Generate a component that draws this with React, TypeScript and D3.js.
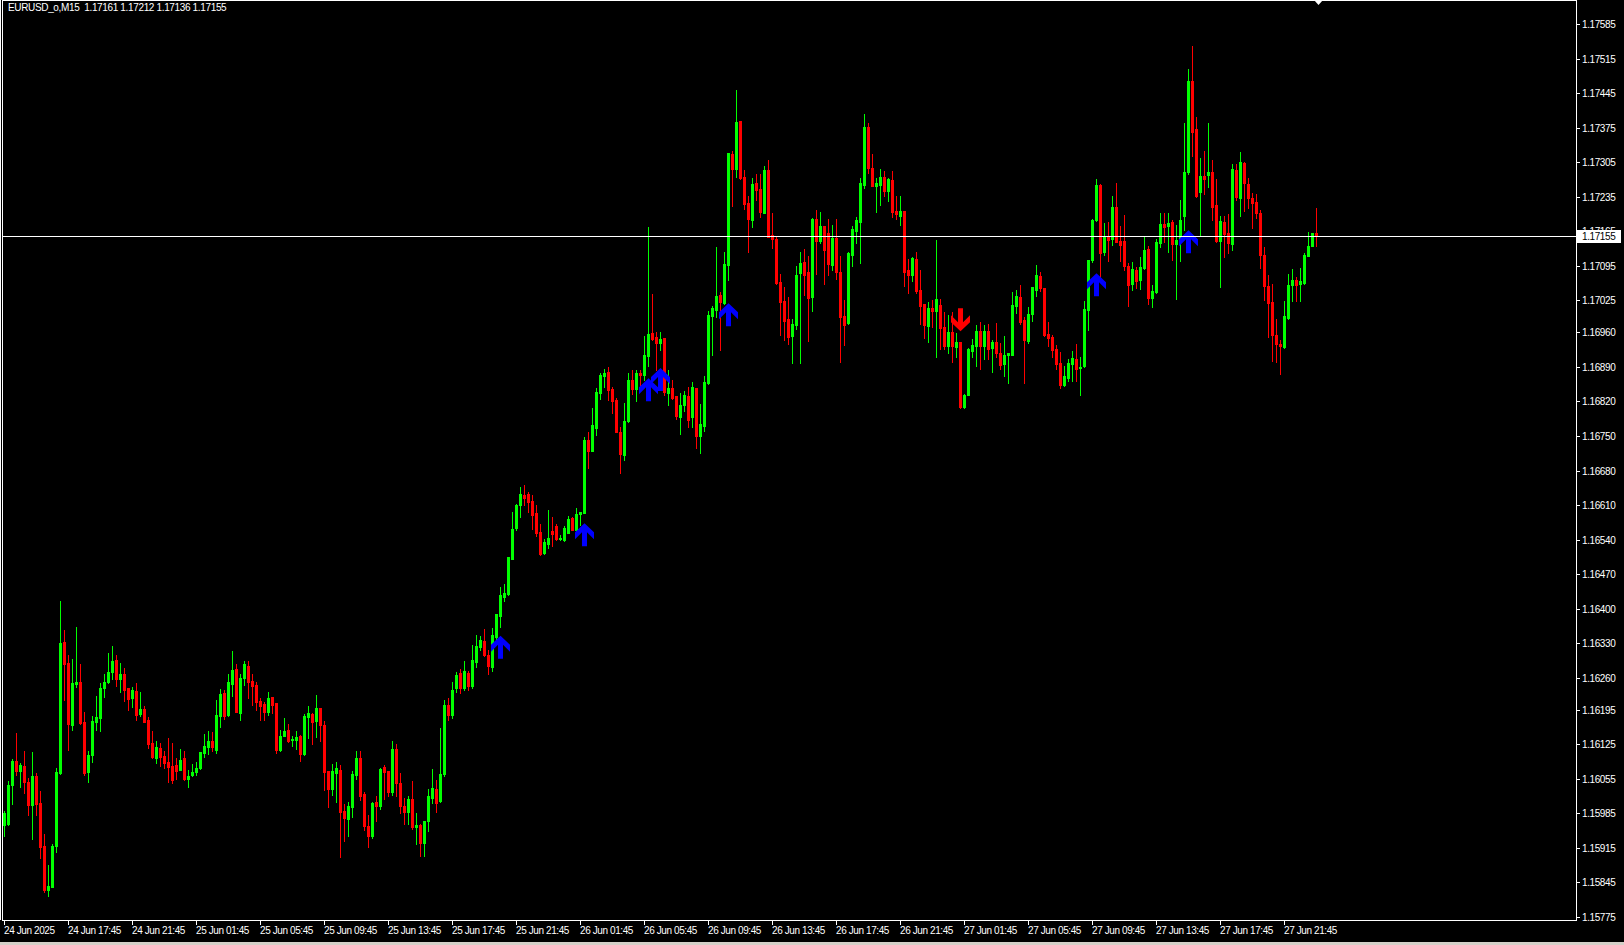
import React from 'react';
import * as d3 from 'd3';

const SYMBOL = 'EURUSD_o,M15';
const CURRENT_PRICE = 1.17155;

const OPEN = [
1.15962,1.15963,1.16043,1.16091,1.16070,1.16081,1.16049,1.16002,1.16060,1.16006,
1.15919,1.15829,1.15835,1.15919,1.16066,1.16332,1.16290,1.16165,1.16247,1.16251,
1.16170,1.16069,1.16103,1.16171,1.16178,1.16239,1.16251,1.16272,1.16296,1.16257,
1.16268,1.16239,1.16219,1.16233,1.16187,1.16197,1.16175,1.16128,1.16098,1.16118,
1.16102,1.16089,1.16081,1.16083,1.16072,1.16097,1.16055,1.16062,1.16068,1.16078,
1.16108,1.16120,1.16132,1.16114,1.16183,1.16229,1.16184,1.16248,1.16278,1.16189,
1.16259,1.16284,1.16253,1.16245,1.16213,1.16207,1.16191,1.16221,1.16209,1.16114,
1.16142,1.16154,1.16134,1.16134,1.16142,1.16105,1.16181,1.16187,1.16172,1.16199,
1.16164,1.16071,1.16035,1.16067,1.16073,1.15990,1.15974,1.15997,1.16063,1.16097,
1.16024,1.15960,1.15939,1.16008,1.15999,1.16079,1.16071,1.16028,1.16116,1.16047,
1.16000,1.15988,1.16014,1.15958,1.15962,1.15925,1.15970,1.16016,1.16035,1.16010,
1.16065,1.16205,1.16185,1.16239,1.16270,1.16239,1.16270,1.16243,1.16292,1.16322,
1.16334,1.16306,1.16282,1.16343,1.16385,1.16424,1.16430,1.16501,1.16563,1.16610,
1.16630,1.16632,1.16618,1.16594,1.16555,1.16513,1.16531,1.16557,1.16567,1.16541,
1.16539,1.16553,1.16584,1.16559,1.16592,1.16594,1.16742,1.16719,1.16766,1.16837,
1.16871,1.16879,1.16845,1.16823,1.16758,1.16711,1.16780,1.16863,1.16845,1.16877,
1.16873,1.16912,1.16958,1.16950,1.16938,1.16948,1.16837,1.16847,1.16831,1.16788,
1.16813,1.16831,1.16788,1.16847,1.16750,1.16770,1.16857,1.16993,1.17005,1.17035,
1.17019,1.17096,1.17321,1.17291,1.17388,1.17275,1.17222,1.17187,1.17262,1.17250,
1.17202,1.17289,1.17157,1.17149,1.17062,1.17023,1.16987,1.16952,1.16975,1.17080,
1.17102,1.17082,1.17031,1.17189,1.17145,1.17175,1.17161,1.17096,1.17151,1.17082,
1.16993,1.16979,1.17117,1.17165,1.17183,1.17258,1.17376,1.17293,1.17256,1.17258,
1.17275,1.17246,1.17268,1.17206,1.17196,1.17206,1.17086,1.17076,1.17108,1.17046,
1.17017,1.16973,1.17009,1.17003,1.17015,1.16971,1.16932,1.16961,1.16930,1.16940,
1.16809,1.16833,1.16922,1.16932,1.16962,1.16932,1.16962,1.16928,1.16940,1.16918,
1.16896,1.16914,1.16914,1.17013,1.17031,1.16985,1.16942,1.16997,1.17046,1.17074,
1.17050,1.16956,1.16950,1.16926,1.16898,1.16853,1.16867,1.16896,1.16906,1.16888,
1.16892,1.17005,1.17106,1.17187,1.17258,1.17123,1.17155,1.17149,1.17214,1.17145,
1.17145,1.17094,1.17058,1.17086,1.17066,1.17090,1.17129,1.17029,1.17042,1.17141,
1.17179,1.17175,1.17183,1.17139,1.17147,1.17196,1.17285,1.17469,1.17372,1.17244,
1.17277,1.17279,1.17285,1.17218,1.17145,1.17183,1.17161,1.17139,1.17289,1.17232,
1.17303,1.17260,1.17232,1.17224,1.17202,1.17117,1.17054,1.17021,1.16954,1.16936,
1.16930,1.16989,1.17056,1.17066,1.17058,1.17060,1.17114,1.17135,1.17161,
];

const HIGH = [
1.15989,1.16051,1.16095,1.16147,1.16087,1.16112,1.16057,1.16110,1.16067,1.16031,
1.15943,1.15881,1.15923,1.16077,1.16415,1.16357,1.16306,1.16298,1.16363,1.16288,
1.16191,1.16112,1.16182,1.16223,1.16249,1.16268,1.16310,1.16324,1.16306,1.16290,
1.16280,1.16239,1.16241,1.16249,1.16231,1.16203,1.16181,1.16152,1.16132,1.16128,
1.16112,1.16138,1.16128,1.16097,1.16116,1.16112,1.16073,1.16085,1.16089,1.16110,
1.16146,1.16152,1.16150,1.16215,1.16237,1.16235,1.16268,1.16314,1.16288,1.16268,
1.16294,1.16294,1.16268,1.16251,1.16219,1.16211,1.16231,1.16221,1.16209,1.16154,
1.16178,1.16166,1.16142,1.16152,1.16144,1.16187,1.16203,1.16189,1.16225,1.16199,
1.16172,1.16071,1.16085,1.16089,1.16083,1.16004,1.16008,1.16071,1.16112,1.16112,
1.16028,1.15982,1.16008,1.16020,1.16077,1.16083,1.16071,1.16132,1.16126,1.16067,
1.16016,1.16020,1.16051,1.15986,1.15964,1.15970,1.16035,1.16075,1.16053,1.16158,
1.16215,1.16219,1.16251,1.16272,1.16278,1.16294,1.16274,1.16326,1.16347,1.16345,
1.16359,1.16316,1.16361,1.16389,1.16444,1.16450,1.16505,1.16596,1.16612,1.16646,
1.16651,1.16636,1.16630,1.16610,1.16571,1.16541,1.16600,1.16586,1.16571,1.16549,
1.16567,1.16588,1.16586,1.16604,1.16596,1.16748,1.16758,1.16807,1.16847,1.16877,
1.16886,1.16890,1.16849,1.16827,1.16768,1.16817,1.16877,1.16884,1.16884,1.16884,
1.16952,1.17173,1.17037,1.16960,1.16960,1.16948,1.16884,1.16863,1.16831,1.16837,
1.16841,1.16849,1.16859,1.16847,1.16815,1.16871,1.17003,1.17013,1.17133,1.17042,
1.17123,1.17323,1.17327,1.17451,1.17388,1.17289,1.17236,1.17273,1.17281,1.17281,
1.17297,1.17309,1.17202,1.17153,1.17078,1.17052,1.17031,1.16987,1.17094,1.17123,
1.17129,1.17114,1.17191,1.17208,1.17204,1.17175,1.17189,1.17177,1.17189,1.17114,
1.17025,1.17123,1.17175,1.17193,1.17273,1.17402,1.17384,1.17321,1.17273,1.17291,
1.17287,1.17273,1.17287,1.17236,1.17236,1.17206,1.17108,1.17112,1.17123,1.17086,
1.17017,1.17021,1.17025,1.17147,1.17027,1.17001,1.16995,1.17001,1.16958,1.16940,
1.16835,1.16928,1.16946,1.16975,1.16981,1.16975,1.16977,1.16944,1.16979,1.16938,
1.16952,1.16918,1.17042,1.17046,1.17056,1.16991,1.17011,1.17052,1.17096,1.17082,
1.17050,1.16981,1.16954,1.16934,1.16920,1.16892,1.16906,1.16922,1.16936,1.16910,
1.17023,1.17106,1.17189,1.17270,1.17260,1.17181,1.17183,1.17236,1.17262,1.17175,
1.17198,1.17100,1.17102,1.17092,1.17112,1.17155,1.17135,1.17056,1.17149,1.17202,
1.17202,1.17202,1.17187,1.17177,1.17228,1.17384,1.17493,1.17540,1.17396,1.17313,
1.17327,1.17384,1.17309,1.17270,1.17196,1.17196,1.17200,1.17301,1.17301,1.17325,
1.17305,1.17273,1.17242,1.17240,1.17208,1.17133,1.17076,1.17058,1.16987,1.16944,
1.17023,1.17078,1.17088,1.17072,1.17090,1.17121,1.17163,1.17161,1.17212,
];

const LOW = [
1.15940,1.15962,1.16005,1.16063,1.16039,1.16027,1.15982,1.15933,1.15981,1.15895,
1.15825,1.15818,1.15835,1.15906,1.16064,1.16215,1.16114,1.16154,1.16242,1.16167,
1.16062,1.16049,1.16090,1.16155,1.16153,1.16220,1.16249,1.16257,1.16243,1.16232,
1.16212,1.16195,1.16201,1.16175,1.16183,1.16171,1.16118,1.16098,1.16088,1.16082,
1.16078,1.16049,1.16047,1.16055,1.16072,1.16053,1.16039,1.16060,1.16062,1.16074,
1.16100,1.16106,1.16112,1.16108,1.16161,1.16176,1.16183,1.16223,1.16190,1.16175,
1.16245,1.16219,1.16205,1.16195,1.16174,1.16174,1.16185,1.16189,1.16108,1.16112,
1.16142,1.16130,1.16122,1.16116,1.16092,1.16103,1.16138,1.16126,1.16140,1.16131,
1.16033,1.15997,1.16022,1.16009,1.15897,1.15929,1.15940,1.15978,1.16055,1.16012,
1.15952,1.15917,1.15935,1.15970,1.15994,1.16014,1.16020,1.16022,1.16020,1.15986,
1.15964,1.15964,1.15954,1.15923,1.15899,1.15899,1.15950,1.16006,1.15988,1.16008,
1.16061,1.16174,1.16178,1.16231,1.16229,1.16235,1.16235,1.16239,1.16282,1.16316,
1.16304,1.16268,1.16274,1.16336,1.16363,1.16415,1.16428,1.16501,1.16559,1.16586,
1.16610,1.16596,1.16561,1.16547,1.16509,1.16511,1.16523,1.16527,1.16539,1.16539,
1.16537,1.16553,1.16559,1.16557,1.16569,1.16594,1.16685,1.16719,1.16752,1.16825,
1.16849,1.16823,1.16796,1.16758,1.16675,1.16701,1.16778,1.16835,1.16821,1.16843,
1.16863,1.16892,1.16944,1.16884,1.16924,1.16833,1.16813,1.16825,1.16784,1.16754,
1.16800,1.16768,1.16768,1.16725,1.16715,1.16760,1.16855,1.16914,1.16991,1.16924,
1.17017,1.17066,1.17216,1.17275,1.17270,1.17210,1.17123,1.17173,1.17228,1.17193,
1.17202,1.17153,1.17131,1.17058,1.16954,1.16944,1.16936,1.16898,1.16967,1.16898,
1.17035,1.16942,1.17003,1.17078,1.17141,1.17058,1.17076,1.17086,1.17068,1.16900,
1.16934,1.16977,1.17094,1.17141,1.17100,1.17252,1.17283,1.17256,1.17204,1.17218,
1.17236,1.17226,1.17193,1.17189,1.17177,1.17054,1.17040,1.17064,1.17040,1.16977,
1.16948,1.16940,1.16971,1.16910,1.16926,1.16926,1.16918,1.16900,1.16910,1.16807,
1.16807,1.16833,1.16910,1.16892,1.16886,1.16906,1.16906,1.16879,1.16910,1.16886,
1.16871,1.16857,1.16914,1.16999,1.16977,1.16857,1.16938,1.16983,1.17033,1.17044,
1.16952,1.16932,1.16910,1.16886,1.16847,1.16851,1.16861,1.16861,1.16861,1.16833,
1.16890,1.16965,1.17102,1.17185,1.17072,1.17117,1.17104,1.17137,1.17143,1.17104,
1.17086,1.17013,1.17046,1.17050,1.17048,1.17088,1.17017,1.17011,1.17040,1.17133,
1.17143,1.17123,1.17106,1.17027,1.17104,1.17167,1.17281,1.17317,1.17234,1.17155,
1.17240,1.17254,1.17187,1.17143,1.17052,1.17112,1.17121,1.17127,1.17228,1.17196,
1.17206,1.17212,1.17171,1.17191,1.17090,1.17025,1.16950,1.16902,1.16900,1.16875,
1.16928,1.16987,1.17023,1.17023,1.17023,1.17058,1.17114,1.17135,1.17136,
];

const CLOSE = [
1.15985,1.16043,1.16091,1.16070,1.16083,1.16049,1.16001,1.16061,1.16005,1.15916,
1.15829,1.15838,1.15919,1.16069,1.16330,1.16288,1.16166,1.16249,1.16251,1.16168,
1.16067,1.16103,1.16172,1.16181,1.16239,1.16251,1.16272,1.16294,1.16257,1.16268,
1.16235,1.16217,1.16235,1.16185,1.16197,1.16171,1.16126,1.16100,1.16120,1.16100,
1.16087,1.16080,1.16053,1.16071,1.16093,1.16055,1.16061,1.16069,1.16077,1.16110,
1.16122,1.16132,1.16120,1.16185,1.16227,1.16183,1.16251,1.16276,1.16191,1.16259,
1.16288,1.16251,1.16244,1.16211,1.16203,1.16191,1.16219,1.16205,1.16114,1.16142,
1.16152,1.16132,1.16136,1.16140,1.16106,1.16183,1.16189,1.16170,1.16199,1.16164,
1.16069,1.16035,1.16071,1.16077,1.15987,1.15976,1.16000,1.16065,1.16097,1.16020,
1.15960,1.15939,1.16006,1.16000,1.16075,1.16068,1.16028,1.16116,1.16047,1.16000,
1.15988,1.16014,1.15958,1.15962,1.15925,1.15970,1.16020,1.16037,1.16006,1.16065,
1.16205,1.16185,1.16235,1.16266,1.16239,1.16274,1.16243,1.16296,1.16324,1.16336,
1.16306,1.16284,1.16347,1.16389,1.16428,1.16432,1.16505,1.16561,1.16610,1.16632,
1.16624,1.16616,1.16590,1.16553,1.16511,1.16535,1.16543,1.16551,1.16541,1.16543,
1.16563,1.16582,1.16559,1.16592,1.16596,1.16742,1.16719,1.16772,1.16839,1.16873,
1.16877,1.16843,1.16821,1.16758,1.16713,1.16780,1.16863,1.16845,1.16877,1.16873,
1.16914,1.16956,1.16946,1.16938,1.16946,1.16839,1.16847,1.16827,1.16790,1.16813,
1.16833,1.16782,1.16849,1.16750,1.16774,1.16859,1.16995,1.17009,1.17033,1.17021,
1.17098,1.17323,1.17291,1.17386,1.17273,1.17220,1.17189,1.17260,1.17248,1.17204,
1.17289,1.17153,1.17149,1.17060,1.17021,1.16983,1.16950,1.16977,1.17076,1.17100,
1.17076,1.17029,1.17189,1.17145,1.17175,1.17127,1.17098,1.17151,1.17082,1.16991,
1.16975,1.17121,1.17169,1.17187,1.17262,1.17376,1.17293,1.17256,1.17262,1.17275,
1.17246,1.17270,1.17204,1.17200,1.17206,1.17082,1.17076,1.17110,1.17044,1.17013,
1.16975,1.17009,1.17003,1.17027,1.16969,1.16932,1.16961,1.16932,1.16940,1.16809,
1.16833,1.16926,1.16934,1.16962,1.16932,1.16962,1.16926,1.16940,1.16918,1.16894,
1.16914,1.16918,1.17015,1.17033,1.16981,1.16944,1.16997,1.17052,1.17076,1.17050,
1.16954,1.16948,1.16924,1.16896,1.16853,1.16871,1.16898,1.16908,1.16886,1.16890,
1.17007,1.17106,1.17187,1.17258,1.17121,1.17155,1.17147,1.17214,1.17143,1.17137,
1.17094,1.17056,1.17088,1.17064,1.17092,1.17127,1.17029,1.17044,1.17143,1.17179,
1.17173,1.17181,1.17139,1.17147,1.17187,1.17285,1.17469,1.17366,1.17236,1.17277,
1.17270,1.17285,1.17214,1.17145,1.17185,1.17159,1.17141,1.17291,1.17234,1.17305,
1.17262,1.17232,1.17222,1.17202,1.17117,1.17054,1.17019,1.16954,1.16936,1.16932,
1.16993,1.17056,1.17066,1.17056,1.17064,1.17117,1.17135,1.17161,1.17155,
];

const PRICE_TICKS = [
'1.17585','1.17515','1.17445','1.17375','1.17305','1.17235','1.17165','1.17095','1.17025',
'1.16960','1.16890','1.16820','1.16750','1.16680','1.16610','1.16540','1.16470','1.16400',
'1.16330','1.16260','1.16195','1.16125','1.16055','1.15985','1.15915','1.15845','1.15775',
];

const TIME_LABELS = [
'24 Jun 2025','24 Jun 17:45','24 Jun 21:45','25 Jun 01:45','25 Jun 05:45','25 Jun 09:45',
'25 Jun 13:45','25 Jun 17:45','25 Jun 21:45','26 Jun 01:45','26 Jun 05:45','26 Jun 09:45',
'26 Jun 13:45','26 Jun 17:45','26 Jun 21:45','27 Jun 01:45','27 Jun 05:45','27 Jun 09:45',
'27 Jun 13:45','27 Jun 17:45','27 Jun 21:45',
];
const TIME_LABEL_BARS = [0,16,32,48,64,80,96,112,128,144,160,176,192,208,224,240,256,272,288,304,320];

const BUY_BARS = [124, 145, 161, 164, 181, 273, 296];
const BUY_PRICES = [1.16345, 1.16573, 1.16867, 1.16888, 1.17019, 1.17080, 1.17167];
const SELL_BARS = [239];
const SELL_PRICES = [1.16962];

const BULL = '#00ff00';
const BEAR = '#ff0000';
const FONT = "Tahoma, 'Liberation Sans', Arial, sans-serif";

const W = 1624;
const H = 945;
const PLOT_L = 3;
const PLOT_R = 1576;
const PLOT_T = 0;
const PLOT_B = 920;

export default function App() {
  const x = d3.scaleLinear().domain([0, OPEN.length - 1]).range([4, 4 + 4 * (OPEN.length - 1)]);
  const y = d3.scaleLinear().domain([1.15775, 1.17585]).range([917, 24]);

  const upArrow = (cx: number, ty: number) => {
    const pts = [[0,0],[9.5,9],[9.5,16],[2.5,9],[2.5,23],[-2.5,23],[-2.5,9],[-9.5,16],[-9.5,9]];
    return 'M' + pts.map(p => `${cx + p[0]},${ty + p[1]}`).join('L') + 'Z';
  };
  const downArrow = (cx: number, by: number) => {
    const pts = [[0,0],[9.5,-9],[9.5,-16],[2.5,-9],[2.5,-23],[-2.5,-23],[-2.5,-9],[-9.5,-16],[-9.5,-9]];
    return 'M' + pts.map(p => `${cx + p[0]},${by + p[1]}`).join('L') + 'Z';
  };

  const yCur = Math.round(y(CURRENT_PRICE));

  return (
    <div>
      <style>{'body{margin:0;background:#000;overflow:hidden}'}</style>
      <svg width={W} height={H} style={{ display: 'block', background: '#000' }} fontFamily={FONT}>
        <rect x={0} y={0} width={W} height={H} fill="#000" />
        <g shapeRendering="crispEdges">
          {OPEN.map((o, i) => {
            const c = CLOSE[i];
            const cx = Math.round(x(i));
            const col = c >= o ? BULL : BEAR;
            const yTop = Math.round(y(Math.max(o, c)));
            const yBot = Math.round(y(Math.min(o, c)));
            return (
              <g key={i}>
                <rect x={cx} y={Math.round(y(HIGH[i]))} width={1} height={Math.max(1, Math.round(y(LOW[i])) - Math.round(y(HIGH[i])) + 1)} fill={col} />
                <rect x={cx - 1} y={yTop} width={3} height={Math.max(1, yBot - yTop + 1)} fill={col} />
              </g>
            );
          })}
        </g>
        {BUY_BARS.map((b, k) => (
          <path key={'b' + k} d={upArrow(x(b) + 0.5, y(BUY_PRICES[k]))} fill="#0000ff" />
        ))}
        {SELL_BARS.map((b, k) => (
          <path key={'s' + k} d={downArrow(x(b) + 0.5, y(SELL_PRICES[k]))} fill="#ff0000" />
        ))}
        <g shapeRendering="crispEdges">
          <line x1={PLOT_L} x2={PLOT_R} y1={yCur + 0.5} y2={yCur + 0.5} stroke="#fff" strokeWidth={1} />
          <rect x={PLOT_L - 0.5} y={PLOT_T + 0.5} width={PLOT_R - PLOT_L + 1} height={PLOT_B - PLOT_T} fill="none" stroke="#fff" strokeWidth={1} />
          <line x1={0.5} x2={0.5} y1={0} y2={PLOT_B} stroke="#fff" />
          <rect x={0} y={942} width={W} height={3} fill="#d4d0c8" />
        </g>
        <text x={8} y={11} fill="#fff" fontSize={10} letterSpacing={-0.35} style={{ whiteSpace: 'pre' }}>
          {`${SYMBOL}  ${OPEN[OPEN.length - 1].toFixed(5)} ${HIGH[HIGH.length - 1].toFixed(5)} ${LOW[LOW.length - 1].toFixed(5)} ${CLOSE[CLOSE.length - 1].toFixed(5)}`}
        </text>
        <path d={`M1314,0L1323,0L1318.5,5Z`} fill="#fff" />
        <g>
          {PRICE_TICKS.map((t, k) => {
            const ty = Math.round(y(parseFloat(t)));
            return (
              <g key={'pt' + k}>
                <line x1={PLOT_R} x2={PLOT_R + 4} y1={ty + 0.5} y2={ty + 0.5} stroke="#fff" shapeRendering="crispEdges" />
                <text x={1582} y={ty + 4} fill="#fff" fontSize={10} letterSpacing={-0.4}>{t}</text>
              </g>
            );
          })}
          <rect x={1577} y={yCur - 6} width={44} height={13} fill="#fff" shapeRendering="crispEdges" />
          <text x={1582} y={yCur + 4} fill="#000" fontSize={10} letterSpacing={-0.4}>{CURRENT_PRICE.toFixed(5)}</text>
        </g>
        <g>
          {TIME_LABELS.map((t, k) => {
            const tx = Math.round(x(TIME_LABEL_BARS[k]));
            return (
              <g key={'tl' + k}>
                <line x1={tx + 0.5} x2={tx + 0.5} y1={PLOT_B} y2={PLOT_B + 5} stroke="#fff" shapeRendering="crispEdges" />
                <text x={tx} y={934} fill="#fff" fontSize={10} letterSpacing={-0.4}>{t}</text>
              </g>
            );
          })}
        </g>
      </svg>
    </div>
  );
}
